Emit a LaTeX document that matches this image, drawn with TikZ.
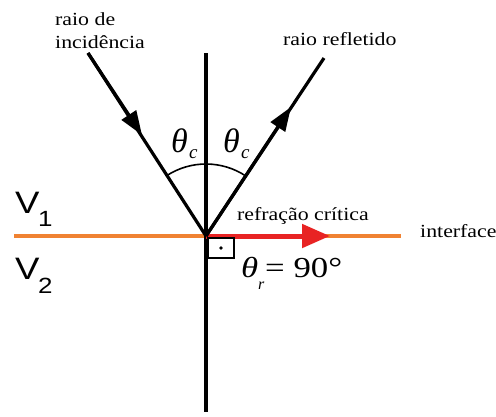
\documentclass[tikz,border=0pt]{standalone}
\usepackage{graphicx}
\usepackage{fontspec}
\setmainfont{Liberation Serif}
\newfontfamily\sansV{Liberation Sans}
\usetikzlibrary{arrows.meta}
\definecolor{orangeline}{RGB}{240,130,50}
\definecolor{redarrow}{RGB}{232,35,35}
\newcommand{\hs}[1]{\scalebox{1.18}[1]{#1}}
\begin{document}
\begin{tikzpicture}[x=1pt,y=-1pt,
  txt/.style={inner sep=0pt, anchor=base west},
  lbl/.style={txt, font=\fontsize{18.5}{22}\selectfont},
  thc/.style={txt, font=\fontsize{34}{36}\selectfont\itshape},
  subc/.style={txt, font=\fontsize{19}{20}\selectfont\itshape},
  vsym/.style={txt, font=\fontsize{31}{33}\selectfont\sansV},
  vsub/.style={txt, font=\fontsize{22}{24}\selectfont\sansV},
  ray/.style={line width=3.2pt, black},
  tipstyle/.style={-{Triangle[length=24pt,width=17pt]}}]
\useasboundingbox (0,0) rectangle (496,416);
\coordinate (O) at (206,236);
\coordinate (A) at (88,53);
\coordinate (B) at (324,58);
\coordinate (Atip) at (142,135);
\coordinate (Btip) at (291,107);
\coordinate (Ntop) at (206,53);
\coordinate (Nbot) at (206,412);
\coordinate (IL) at (14,236);
\coordinate (IR) at (401,236);
\coordinate (Rend) at (330,236);
% interface
\draw[orangeline, line width=4.6pt] (IL) -- (IR);
% normal
\draw[line width=3.6pt] (Ntop) -- (Nbot);
% critical refraction
\draw[redarrow, line width=5pt, -{Triangle[length=28pt,width=23pt]}] (O) -- (Rend);
% incident ray
\draw[ray] (A) -- (O);
\draw[ray, tipstyle] (A) -- (Atip);
% reflected ray
\draw[ray] (O) -- (B);
\draw[ray, tipstyle] (O) -- (Btip);
% angle arc
\draw[line width=1.6pt] ([shift={(-56.5:72)}]O) arc[start angle=-56.5, end angle=-122.8, radius=72];
% right angle
\draw[line width=1.2pt] (208,238) rectangle (234,258);
\fill (221,248) circle (1.9pt);
% labels
\node[lbl] (tinc1) at (55,25) {\hs{raio de}};
\node[lbl] (tinc2) at (55,48) {\hs{incidência}};
\node[lbl] (trefl) at (283,45) {\hs{raio refletido}};
\node[lbl] (tcrit) at (237,220) {\hs{refração crítica}};
\node[lbl] (tint) at (420,237) {\hs{interface}};
\node[thc] (thL) at (171,152) {θ};
\node[subc] (cL) at (189,158) {c};
\node[thc] (thR) at (223,152) {θ};
\node[subc] (cR) at (241,158) {c};
\node[txt, font=\fontsize{29}{30}\selectfont\itshape] (thr) at (241,277) {\scalebox{1.2}[1]{θ}};
\node[txt, font=\fontsize{16}{18}\selectfont\itshape] (rr) at (258,289) {r};
\node[txt, font=\fontsize{29}{30}\selectfont] (eq) at (265,277) {\scalebox{1.2}[1]{= 90°}};
\node[vsym] (V1) at (15,213) {\hs{V}};
\node[vsub] (V1s) at (38,226) {\hs{1}};
\node[vsym] (V2) at (15,279) {\hs{V}};
\node[vsub] (V2s) at (38,293) {\hs{2}};
\end{tikzpicture}
\end{document}
